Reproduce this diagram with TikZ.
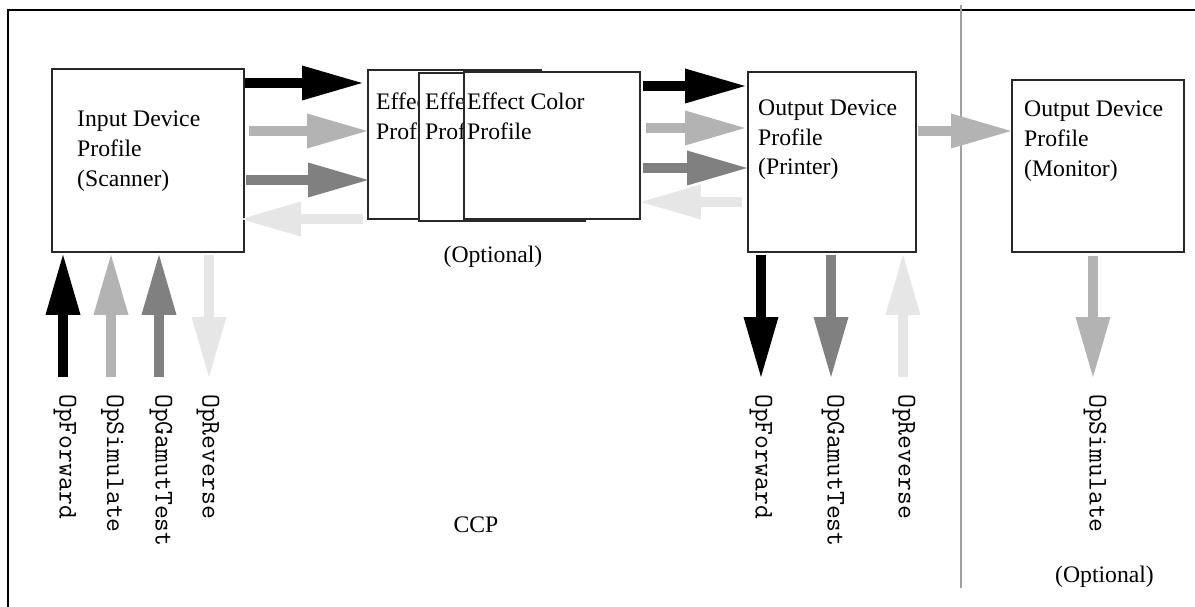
\documentclass[tikz,border=0pt]{standalone}
\usepackage{fontspec}
\setmainfont{Liberation Serif}
\usetikzlibrary{arrows.meta,calc}

\definecolor{opfwd}{RGB}{0,0,0}
\definecolor{opsim}{RGB}{179,179,179}
\definecolor{opgam}{RGB}{128,128,128}
\definecolor{oprev}{RGB}{230,230,230}
\definecolor{boxline}{RGB}{40,40,40}
\definecolor{divider}{RGB}{160,160,160}

\begin{document}
\begin{tikzpicture}[x=1pt,y=-1pt,
  profile/.style={draw=boxline, line width=1.8pt, fill=white,
    anchor=north west, inner sep=0pt},
  boxtext/.style={anchor=north west, inner sep=0pt, align=left,
    font=\fontsize{23.7}{29.7}\selectfont},
  note/.style={anchor=base, inner sep=0pt,
    font=\fontsize{23.7}{29.7}\selectfont},
  oplabel/.style={rotate=-90, anchor=west, inner sep=0pt,
    font=\ttfamily\fontsize{26.9}{30}\selectfont},
  fat/.style={draw=#1, line width=10pt,
    -{Triangle[length=60pt,width=35pt,line width=0pt]}}]

\useasboundingbox (0,0) rectangle (1195,607);

% frame and separator of the optional monitor part
\draw[line width=1.6pt] (8,607) -- (8,10) -- (1195,10);
\draw[divider, line width=1.8pt] (961,5) -- (961,588);

% input device profile
\node[profile, minimum width=192pt, minimum height=183pt] (in) at (51,68) {};
\node[boxtext] (intext) at (77,111) {Input Device\\Profile\\(Scanner)};

% stack of effect color profiles
\node[profile, minimum width=173pt, minimum height=149pt] (eff1) at (367,69) {};
\node[boxtext] (eff1text) at (376,93) {Effect Color\\Profile};
\node[profile, minimum width=166pt, minimum height=148pt] (eff2) at (418,72) {};
\node[boxtext] (eff2text) at (425,93) {Effect Color\\Profile};
\node[profile, minimum width=176pt, minimum height=147pt] (eff3) at (463,71) {};
\node[boxtext] (eff3text) at (467,93) {Effect Color\\Profile};

% output device profiles
\node[profile, minimum width=168pt, minimum height=180pt] (prn) at (747,71) {};
\node[boxtext] (prntext) at (758,99.5) {Output Device\\Profile\\(Printer)};
\node[profile, minimum width=172pt, minimum height=172pt] (mon) at (1011,79) {};
\node[boxtext] (montext) at (1024,101) {Output Device\\Profile\\(Monitor)};

% captions
\node[note] (opt1) at (493,262.5) {(Optional)};
\node[note] (ccp) at (476,532) {CCP};
\node[note] (opt2) at (1104.5,582.5) {(Optional)};

% operation labels
\node[oplabel] (lf1) at (65,394) {OpForward};
\node[oplabel] (ls1) at (112.5,394) {OpSimulate};
\node[oplabel] (lg1) at (161,394) {OpGamutTest};
\node[oplabel] (lr1) at (208,394) {OpReverse};
\node[oplabel] (lf2) at (761,394) {OpForward};
\node[oplabel] (lg2) at (833,394) {OpGamutTest};
\node[oplabel] (lr2) at (904,394) {OpReverse};
\node[oplabel] (ls2) at (1095,394) {OpSimulate};

% input <-> effect
\draw[fat=opfwd] ($(in.north east)+(0,15)$) -- ($(eff1.north west)+(-5,14)$);
\draw[fat=opsim] ($(in.north east)+(4,63)$) -- ($(eff1.north west)+(0,62)$);
\draw[fat=opgam] ($(in.north east)+(1,112)$) -- ($(eff1.north west)+(1,111)$);
\draw[fat=oprev] ($(eff1.north west)+(-4,150)$) -- ($(in.north east)+(-4,151)$);

% effect <-> printer
\draw[fat=opfwd] ($(eff3.north east)+(2,15)$) -- ($(prn.north west)+(-2,15)$);
\draw[fat=opsim] ($(eff3.north east)+(5,57)$) -- ($(prn.north west)+(-2,57)$);
\draw[fat=opgam] ($(eff3.north east)+(2,97)$) -- ($(prn.north west)+(0,97)$);
\draw[fat=oprev] ($(prn.north west)+(-5,131)$) -- ($(eff3.north east)+(0,131)$);

% printer -> monitor
\draw[fat=opsim] ($(prn.north east)+(1,60)$) -- ($(mon.north west)+(0,52)$);

% operations at the input profile
\draw[fat=opfwd] ($(lf1.west)+(-2,-17)$) -- ($(in.south west)+(12,2)$);
\draw[fat=opsim] ($(ls1.west)+(-1.5,-17)$) -- ($(in.south west)+(60,2)$);
\draw[fat=opgam] ($(lg1.west)+(-2,-17)$) -- ($(in.south west)+(108,2)$);
\draw[fat=oprev] ($(in.south west)+(158,2)$) -- ($(lr1.west)+(1,-17)$);

% operations at the output profiles
\draw[fat=opfwd] ($(prn.south west)+(14,2)$) -- ($(lf2.west)+(0,-17)$);
\draw[fat=opgam] ($(prn.south west)+(84,2)$) -- ($(lg2.west)+(-2,-17)$);
\draw[fat=oprev] ($(lr2.west)+(-1,-17)$) -- ($(prn.south west)+(156,2)$);
\draw[fat=opsim] ($(mon.south west)+(82,3)$) -- ($(ls2.west)+(-2,-17)$);
\end{tikzpicture}
\end{document}
